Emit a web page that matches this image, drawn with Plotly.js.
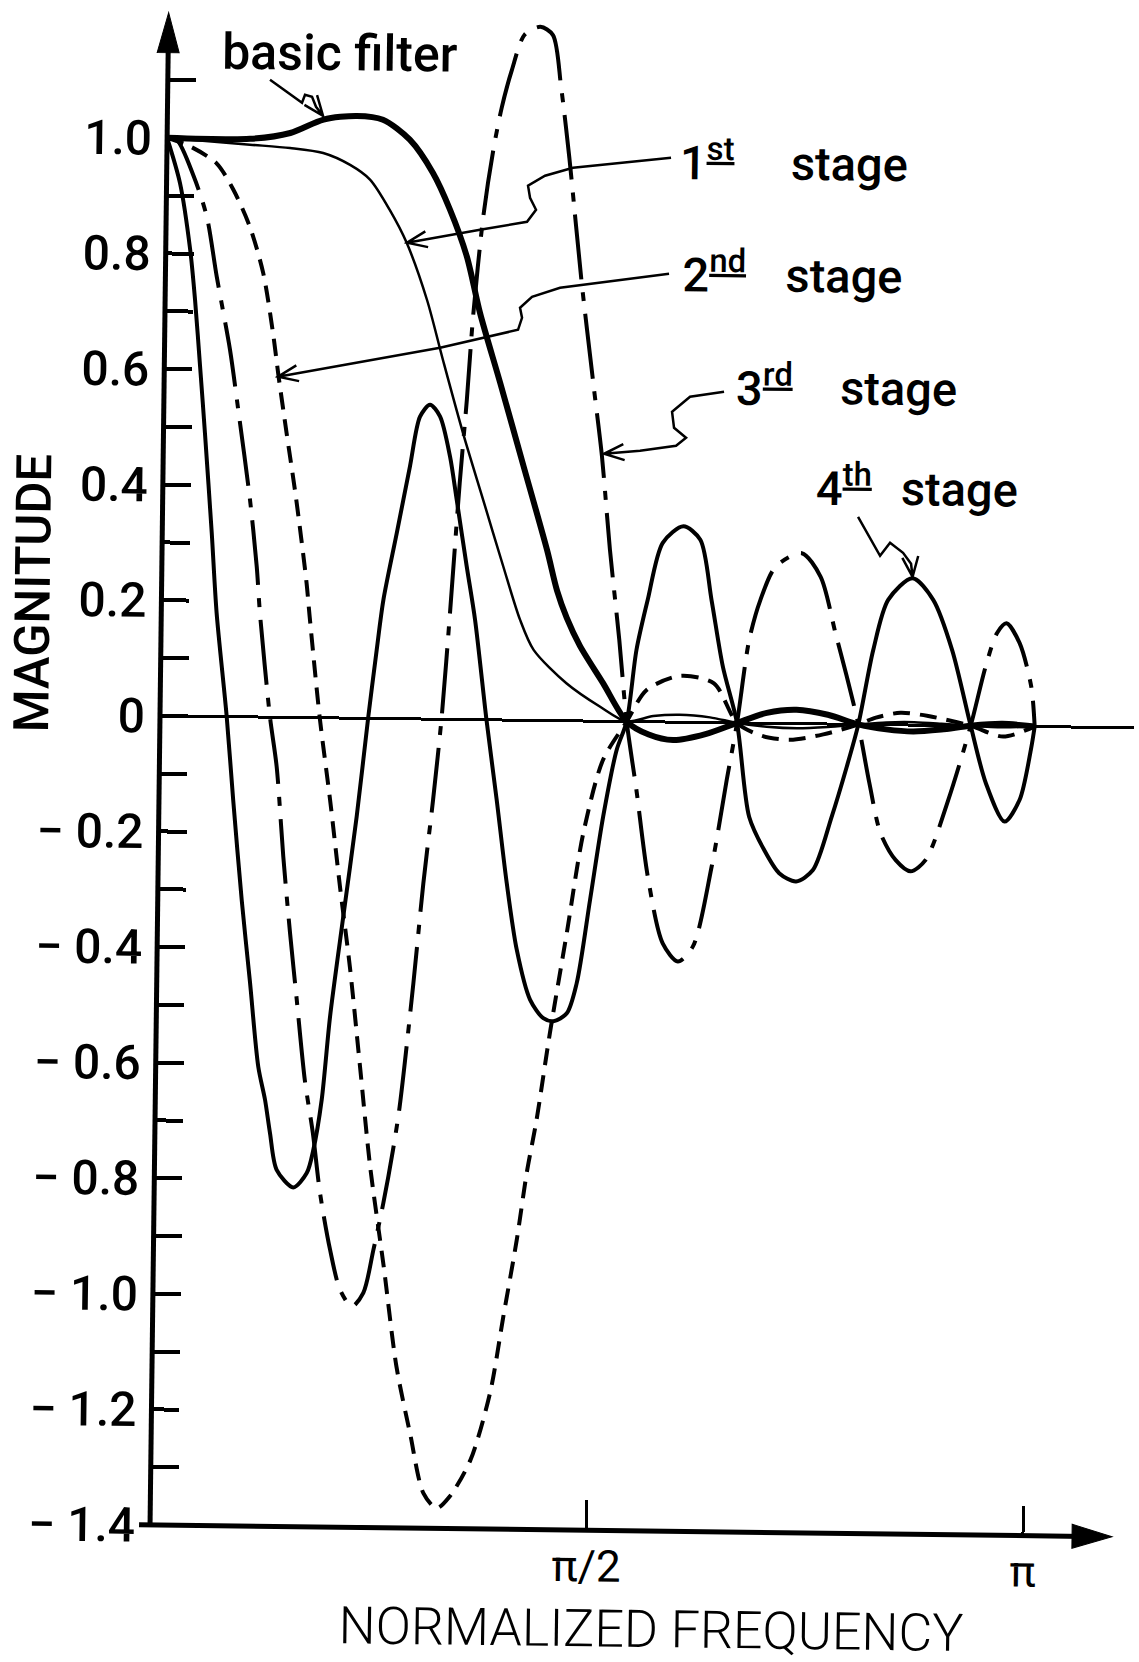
<!DOCTYPE html>
<html>
<head>
<meta charset="utf-8">
<script src="https://cdn.plot.ly/plotly-3.0.1.min.js"></script>
<style>
html,body{margin:0;padding:0;background:#fff;overflow:hidden;}
#chart{width:1139px;height:1662px;transform:rotate(0.705deg);transform-origin:160px 716px;}
</style>
</head>
<body>
<div id="chart"></div>
<script>
// ---- data (normalized frequency in units of pi, magnitude) ----
const freqBasic = [0, 0.095, 0.141, 0.179, 0.217, 0.247, 0.278, 0.305, 0.325, 0.345, 0.361, 0.385, 0.413, 0.441, 0.453, 0.4645, 0.48, 0.507, 0.5346, 0.56, 0.588, 0.625, 0.661, 0.695, 0.729, 0.765, 0.80, 0.832, 0.863, 0.895, 0.9287, 0.965, 1.002];
const magBasic  = [1.0, 1.0, 1.011, 1.035, 1.042, 1.036, 1.002, 0.945, 0.882, 0.801, 0.703, 0.583, 0.439, 0.295, 0.225, 0.178, 0.13, 0.066, 0, -0.022, -0.031, -0.02, 0, 0.018, 0.024, 0.016, 0, -0.008, -0.011, -0.007, 0, 0.004, 0];

const freqStage1 = [0, 0.095, 0.141, 0.179, 0.21, 0.233, 0.256, 0.276, 0.30, 0.319, 0.343, 0.367, 0.391, 0.411, 0.427, 0.465, 0.504, 0.5346, 0.565, 0.595, 0.63, 0.661, 0.695, 0.73, 0.765, 0.80, 0.832, 0.864, 0.895, 0.9287, 0.965, 1.002];
const magStage1  = [1.0, 0.99, 0.985, 0.977, 0.957, 0.932, 0.880, 0.823, 0.725, 0.622, 0.496, 0.381, 0.266, 0.174, 0.122, 0.065, 0.025, 0, 0.01, 0.013, 0.009, 0, -0.006, -0.008, -0.005, 0, 0.004, 0.005, 0.003, 0, -0.002, 0];

const freqStage2 = [0, 0.026, 0.057, 0.0765, 0.096, 0.112, 0.124, 0.131, 0.141, 0.153, 0.166, 0.170, 0.183, 0.196, 0.209, 0.221, 0.234, 0.247, 0.264, 0.280, 0.2965, 0.3126, 0.328, 0.343, 0.366, 0.3875, 0.4017, 0.416, 0.4265, 0.437, 0.451, 0.469, 0.4865, 0.508, 0.5346, 0.557, 0.595, 0.634, 0.661, 0.69, 0.722, 0.76, 0.80, 0.82, 0.848, 0.88, 0.9287, 0.966, 1.002];
const magStage2  = [1.0, 0.986, 0.957, 0.912, 0.848, 0.768, 0.665, 0.59, 0.492, 0.377, 0.233, 0.175, 0.0, -0.142, -0.297, -0.43, -0.602, -0.775, -0.948, -1.121, -1.236, -1.339, -1.365, -1.344, -1.281, -1.165, -1.032, -0.899, -0.783, -0.691, -0.541, -0.367, -0.194, -0.067, 0, 0.055, 0.08, 0.068, 0, -0.022, -0.028, -0.018, 0, 0.012, 0.021, 0.016, 0, -0.018, 0];

const freqStage3 = [0, 0.011, 0.031, 0.0465, 0.0588, 0.075, 0.0853, 0.1, 0.1087, 0.113, 0.126, 0.1343, 0.1432, 0.152, 0.1606, 0.171, 0.181, 0.190, 0.2023, 0.2143, 0.228, 0.241, 0.252, 0.2627, 0.273, 0.280, 0.294, 0.304, 0.314, 0.3227, 0.3307, 0.340, 0.347, 0.353, 0.3633, 0.3738, 0.3828, 0.394, 0.408, 0.426, 0.4405, 0.4506, 0.461, 0.4766, 0.492, 0.5025, 0.513, 0.525, 0.5346, 0.5467, 0.561, 0.579, 0.5966, 0.6135, 0.634, 0.65, 0.661, 0.6738, 0.686, 0.703, 0.7328, 0.7546, 0.7726, 0.786, 0.80, 0.8134, 0.827, 0.8447, 0.862, 0.879, 0.904, 0.9287, 0.945, 0.9576, 0.9683, 0.9836, 0.9975, 1.002];
const magStage3  = [1.0, 0.997, 0.934, 0.865, 0.761, 0.635, 0.531, 0.376, 0.26, 0.18, 0.0, -0.085, -0.241, -0.373, -0.488, -0.627, -0.719, -0.822, -0.92, -0.989, -1.018, -0.994, -0.919, -0.838, -0.746, -0.671, -0.457, -0.284, -0.139, 0.005, 0.184, 0.409, 0.553, 0.698, 0.871, 0.986, 1.059, 1.125, 1.186, 1.2, 1.186, 1.096, 0.974, 0.762, 0.58, 0.459, 0.297, 0.141, 0, -0.118, -0.268, -0.383, -0.414, -0.388, -0.249, -0.099, 0, 0.144, 0.213, 0.271, 0.295, 0.255, 0.157, 0.083, 0, -0.101, -0.188, -0.234, -0.253, -0.233, -0.129, 0, 0.103, 0.161, 0.178, 0.144, 0.069, 0];

const freqStage4 = [0, 0.0154, 0.028, 0.0343, 0.041, 0.0475, 0.0567, 0.0634, 0.0764, 0.085, 0.0962, 0.1069, 0.1175, 0.1257, 0.1319, 0.140, 0.1593, 0.1745, 0.1817, 0.1906, 0.199, 0.2128, 0.2267, 0.2386, 0.2473, 0.2542, 0.2686, 0.2828, 0.2936, 0.3049, 0.3165, 0.3285, 0.3368, 0.3492, 0.3595, 0.374, 0.3868, 0.3995, 0.4119, 0.4278, 0.4433, 0.4549, 0.4701, 0.481, 0.4952, 0.509, 0.5236, 0.5346, 0.5448, 0.557, 0.5734, 0.5969, 0.6164, 0.6301, 0.644, 0.661, 0.6762, 0.6938, 0.7114, 0.7309, 0.75, 0.7708, 0.7874, 0.80, 0.816, 0.8324, 0.86, 0.884, 0.9063, 0.9287, 0.9469, 0.9688, 0.9858, 0.998, 1.002];
const magStage4  = [1.0, 0.922, 0.807, 0.72, 0.605, 0.49, 0.317, 0.179, 0.0, -0.144, -0.317, -0.46, -0.605, -0.662, -0.72, -0.783, -0.813, -0.788, -0.748, -0.661, -0.517, -0.343, -0.17, 0.003, 0.119, 0.205, 0.321, 0.437, 0.523, 0.544, 0.524, 0.455, 0.38, 0.265, 0.173, 0.0, -0.138, -0.282, -0.397, -0.483, -0.515, -0.52, -0.506, -0.454, -0.309, -0.165, -0.049, 0, 0.124, 0.211, 0.31, 0.339, 0.316, 0.212, 0.097, 0, -0.162, -0.219, -0.259, -0.273, -0.253, -0.16, -0.073, 0, 0.129, 0.216, 0.254, 0.217, 0.131, 0, -0.099, -0.165, -0.127, -0.04, 0];

const seriesNames = ['basic filter', '1st stage', '2nd stage', '3rd stage', '4th stage'];

const yTickVals = [-1.4, -1.3, -1.2, -1.1, -1.0, -0.9, -0.8, -0.7, -0.6, -0.5, -0.4, -0.3, -0.2, -0.1, 0, 0.1, 0.2, 0.3, 0.4, 0.5, 0.6, 0.7, 0.8, 0.9, 1.0, 1.1];
const yTickText = ['\u2212 1.4', '', '\u2212 1.2', '', '\u2212 1.0', '', '\u2212 0.8', '', '\u2212 0.6', '', '\u2212 0.4', '', '\u2212 0.2', '', '0', '', '0.2', '', '0.4', '', '0.6', '', '0.8', '', '1.0', ''];
const xTickVals = [0.5, 1.0];
const xTickText = ['\u03C0/2', '\u03C0'];

// ---- geometry helpers (reference-pixel -> data / paper) ----
const X_MAX = 974 / 873;              // plot width 974 px, 873 px per pi
const Y_MIN = -1.4, Y_MAX = -1.4 + 1514 / 578;
const TILT = 0.0123, OX = 160, OY = 716;
function refPt(X, Y) {
  const dx = X - OX, dy = Y - OY;
  return [(dx + dy * TILT) / 873, (dx * TILT - dy) / 578];
}
function px(x) { return x / X_MAX; }
function py(y) { return (y - Y_MIN) / (Y_MAX - Y_MIN); }

function leaderPath(pts) {
  let d = '';
  pts.forEach((p, i) => { const q = refPt(p[0], p[1]); d += (i ? ' L' : 'M') + q[0].toFixed(5) + ',' + q[1].toFixed(5); });
  const T = pts[pts.length - 1], P = pts[pts.length - 2];
  let vx = T[0] - P[0], vy = T[1] - P[1];
  const L = Math.hypot(vx, vy); vx /= L; vy /= L;
  const hl = 20, hw = 8;
  const a = refPt(T[0] - hl * vx + hw * vy, T[1] - hl * vy - hw * vx);
  const t = refPt(T[0], T[1]);
  const b = refPt(T[0] - hl * vx - hw * vy, T[1] - hl * vy + hw * vx);
  d += ' M' + a[0].toFixed(5) + ',' + a[1].toFixed(5) + ' L' + t[0].toFixed(5) + ',' + t[1].toFixed(5) + ' L' + b[0].toFixed(5) + ',' + b[1].toFixed(5);
  return d;
}

const leaders = [
  [[270,80],[302,103],[305,95],[312,97],[316,107],[323,116]],
  [[671,158],[573,168],[545,176],[528,186],[530,198],[536,210],[527,222],[480,230],[407,243]],
  [[669,274],[560,288],[532,297],[520,308],[522,318],[518,330],[440,348],[278,377]],
  [[724,392],[690,397],[672,412],[674,428],[686,438],[676,446],[640,451],[604,454]],
  [[858,517],[880,556],[890,543],[903,553],[911,564],[912.5,577]]
];

const FONT = 'Roboto, "DejaVu Sans", sans-serif';

function line(x, y, name, width, dash) {
  return {x: x, y: y, name: name, type: 'scatter', mode: 'lines',
          line: {color: '#000', width: width, dash: dash, shape: 'spline', smoothing: 0.8},
          hoverinfo: 'skip', showlegend: false};
}

const traces = [
  line(freqBasic, magBasic, seriesNames[0], 6, 'solid'),
  line(freqStage1, magStage1, seriesNames[1], 2.5, 'solid'),
  line(freqStage2, magStage2, seriesNames[2], 4, '17px,10px'),
  line(freqStage3, magStage3, seriesNames[3], 4, '65px,13px,9px,13px'),
  line(freqStage4, magStage4, seriesNames[4], 4, 'solid')
];

const shapes = [];
// y axis line
shapes.push({type: 'line', xref: 'paper', yref: 'paper', x0: 0, x1: 0, y0: py(-1.4) - 2/1514, y1: py(1.16), line: {color: '#000', width: 5}});
// y axis arrowhead
shapes.push({type: 'path', xref: 'paper', yref: 'paper',
  path: 'M' + (-11/974) + ',' + py(1.2165 - 40/578) + ' L0,' + py(1.2165) + ' L' + (11/974) + ',' + py(1.2165 - 40/578) + ' Z',
  fillcolor: '#000', line: {color: '#000', width: 1}});
// x axis line
shapes.push({type: 'line', xref: 'paper', yref: 'paper', x0: -11/974, x1: px(1.07), y0: 0, y1: 0, line: {color: '#000', width: 5}});
// x axis arrowhead
shapes.push({type: 'path', xref: 'paper', yref: 'paper',
  path: 'M' + px(1.102 - 40/873) + ',' + (12/1514) + ' L' + px(1.102) + ',0 L' + px(1.102 - 40/873) + ',' + (-12/1514) + ' Z',
  fillcolor: '#000', line: {color: '#000', width: 1}});
leaders.forEach(p => shapes.push({type: 'path', xref: 'x', yref: 'y', path: leaderPath(p), line: {color: '#000', width: 2.5}}));

function ann(text, X, Y, opts) {
  const q = refPt(X, Y);
  return Object.assign({text: text, x: q[0], y: q[1], xref: 'x', yref: 'y', showarrow: false,
    font: {family: FONT, size: 47, color: '#000', weight: 500}}, opts || {});
}
function annPaper(text, X, Y, opts) {
  const q = refPt(X, Y);
  return Object.assign({text: text, x: px(q[0]), y: py(q[1]), xref: 'paper', yref: 'paper', showarrow: false,
    font: {family: FONT, size: 47, color: '#000', weight: 500}}, opts || {});
}

const annotations = [
  ann('basic filter', 339, 84, {xanchor: 'center', yanchor: 'bottom', font: {family: FONT, size: 50, color: '#000', weight: 500}}),
  ann('1<sup><u>st</u></sup>', 677, 193, {xanchor: 'left', yanchor: 'bottom'}),
  ann('stage', 788, 193, {xanchor: 'left', yanchor: 'bottom'}),
  ann('2<sup><u>nd</u></sup>', 680, 305, {xanchor: 'left', yanchor: 'bottom'}),
  ann('stage', 783, 305, {xanchor: 'left', yanchor: 'bottom'}),
  ann('3<sup><u>rd</u></sup>', 734, 418, {xanchor: 'left', yanchor: 'bottom'}),
  ann('stage', 838, 418, {xanchor: 'left', yanchor: 'bottom'}),
  ann('4<sup><u>th</u></sup>', 813, 518, {xanchor: 'left', yanchor: 'bottom'}),
  ann('stage', 898, 518, {xanchor: 'left', yanchor: 'bottom'}),
  annPaper('MAGNITUDE', 33, 593, {xanchor: 'center', yanchor: 'middle', textangle: -90, font: {family: FONT, size: 49, color: '#000', weight: 500}}),
  annPaper('NORMALIZED FREQUENCY', 651, 1630, {xanchor: 'center', yanchor: 'middle', font: {family: FONT, size: 52, color: '#000', weight: 300}})
];

const layout = {
  width: 1139, height: 1662,
  margin: {l: 160, r: 5, t: 11, b: 137, pad: 0},
  paper_bgcolor: '#fff', plot_bgcolor: '#fff',
  showlegend: false, hovermode: false,
  xaxis: {range: [0, X_MAX], showgrid: false, zeroline: false, showline: false,
          tickmode: 'array', tickvals: xTickVals, ticktext: xTickText,
          ticks: 'inside', ticklen: 30, tickwidth: 3, tickcolor: '#000',
          ticklabelstandoff: 6,
          tickfont: {family: FONT, size: 44, color: '#000'}, fixedrange: true},
  yaxis: {range: [Y_MIN, Y_MAX], showgrid: false, zeroline: true, zerolinecolor: '#000', zerolinewidth: 3,
          showline: false,
          tickmode: 'array', tickvals: yTickVals, ticktext: yTickText,
          ticks: 'inside', ticklen: 28, tickwidth: 4, tickcolor: '#000',
          ticklabelstandoff: 14,
          tickfont: {family: FONT, size: 48, color: '#000', weight: 500}, fixedrange: true},
  shapes: shapes,
  annotations: annotations
};

Plotly.newPlot('chart', traces, layout, {staticPlot: true, displayModeBar: false});
</script>
</body>
</html>
